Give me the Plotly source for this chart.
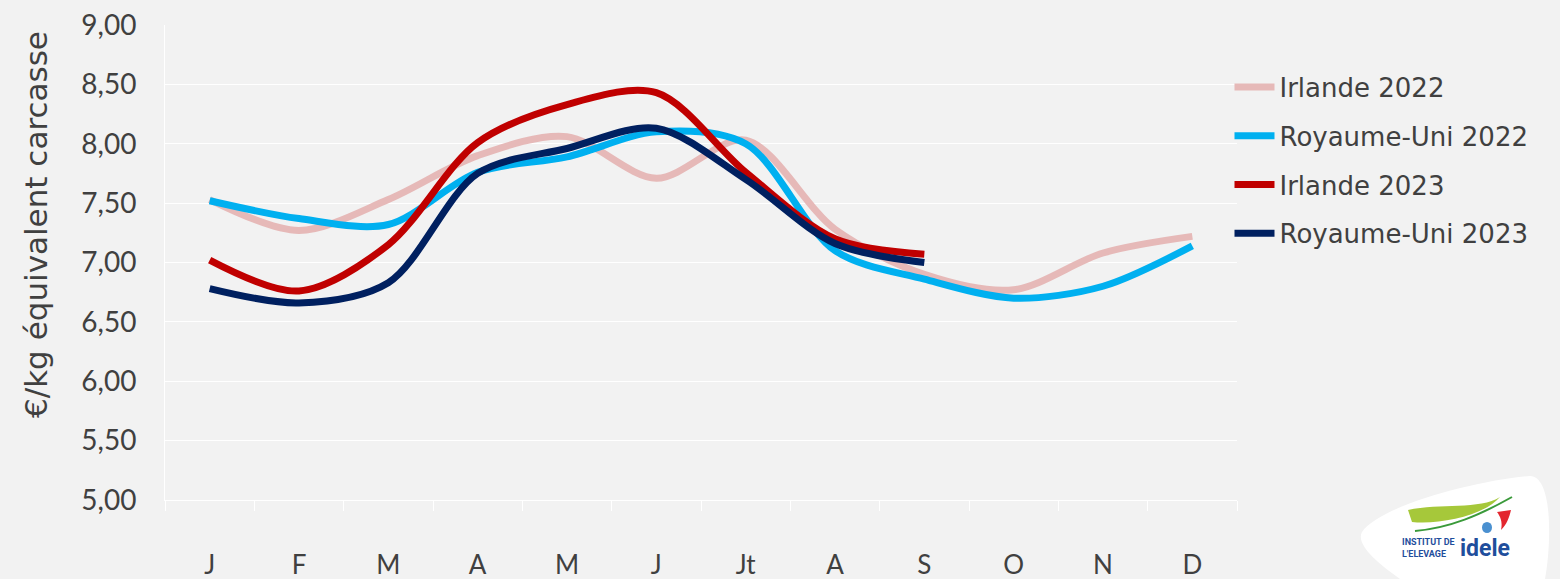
import plotly.graph_objects as go

months = ["J", "F", "M", "A", "M ", "J ", "Jt", "A ", "S", "O", "N", "D"]
month_labels = ["J", "F", "M", "A", "M", "J", "Jt", "A", "S", "O", "N", "D"]

irl_2022 = [7.53, 7.27, 7.53, 7.90, 8.06, 7.71, 8.03, 7.28, 6.90, 6.77, 7.08, 7.22]
ru_2022 = [7.52, 7.37, 7.32, 7.76, 7.89, 8.10, 8.00, 7.10, 6.86, 6.70, 6.80, 7.14]
irl_2023 = [7.02, 6.76, 7.15, 8.01, 8.33, 8.43, 7.76, 7.20, 7.07]
ru_2023 = [6.78, 6.66, 6.83, 7.75, 7.96, 8.13, 7.70, 7.16, 7.00]

series = [
    ("Irlande 2022", irl_2022, "#e6b9b8"),
    ("Royaume-Uni 2022", ru_2022, "#00b0f0"),
    ("Irlande 2023", irl_2023, "#c00000"),
    ("Royaume-Uni 2023", ru_2023, "#002060"),
]

FONT = "Lato, sans-serif"
WIDE = "DejaVu Sans, sans-serif"
TXT = "#404040"

fig = go.Figure()
for i, (name, vals, col) in enumerate(series):
    fig.add_trace(go.Scatter(
        x=months[:len(vals)], y=vals, name=name, mode="lines",
        line=dict(color=col, width=7, shape="spline", smoothing=0.9),
        legendgroup=f"g{i}",
    ))

fig.update_layout(
    width=1560, height=579, autosize=False,
    paper_bgcolor="#f2f2f2", plot_bgcolor="#f2f2f2",
    margin=dict(l=165, r=323, t=25, b=79, autoexpand=False),
    separators=", ",
    font=dict(family=FONT, color=TXT, size=26),
    showlegend=True,
    legend=dict(x=0.993, xanchor="left", y=0.919, yanchor="top",
                font=dict(size=26, color=TXT, family=WIDE), bgcolor="rgba(0,0,0,0)",
                tracegroupgap=12, itemwidth=40),
)
fig.update_xaxes(
    type="category", categoryorder="array", categoryarray=months,
    tickvals=months, ticktext=month_labels, automargin=False,
    tickson="boundaries", ticks="outside", ticklen=10, tickcolor="#ffffff",
    showgrid=False, showline=True, linecolor="#ffffff", linewidth=1,
    tickfont=dict(size=26, color=TXT), ticklabelstandoff=42,
    range=[-0.5, 11.5], zeroline=False,
)
fig.update_yaxes(
    range=[5, 9], dtick=0.5, tick0=5, tickformat=".2f", automargin=False,
    showgrid=True, gridcolor="#ffffff", gridwidth=1,
    showline=True, linecolor="#ffffff", linewidth=1,
    ticks="", tickfont=dict(size=28, color=TXT), ticklabelstandoff=22,
    zeroline=False,
)

fig.add_annotation(
    text="€/kg équivalent carcasse", textangle=-90,
    xref="paper", yref="paper", x=(36 - 165) / 1072, y=(500 - 225) / 475,
    xanchor="center", yanchor="middle", showarrow=False,
    font=dict(size=31, color=TXT, family=WIDE),
)

# Logo (decorative)
def px(x):
    return (x - 165) / 1072

def py(y):
    return (500 - y) / 475

blob = (f"M {px(1362)},{py(532)} "
        f"C {px(1380)},{py(505)} {px(1480)},{py(480)} {px(1530)},{py(476)} "
        f"C {px(1552)},{py(476)} {px(1552)},{py(540)} {px(1545)},{py(579)} "
        f"L {px(1400)},{py(579)} "
        f"C {px(1380)},{py(565)} {px(1355)},{py(545)} {px(1362)},{py(532)} Z")
fig.add_shape(type="path", path=blob, xref="paper", yref="paper",
              fillcolor="#ffffff", line=dict(width=0), layer="above")
swoosh = (f"M {px(1408)},{py(510)} "
          f"C {px(1440)},{py(503)} {px(1480)},{py(510)} {px(1500)},{py(497)} "
          f"C {px(1485)},{py(515)} {px(1440)},{py(525)} {px(1412)},{py(522)} Z")
fig.add_shape(type="path", path=swoosh, xref="paper", yref="paper",
              fillcolor="#a6c83a", line=dict(width=0), layer="above")
fig.add_shape(type="path",
              path=f"M {px(1415)},{py(531)} C {px(1450)},{py(528)} {px(1480)},{py(515)} {px(1512)},{py(497)}",
              xref="paper", yref="paper", line=dict(color="#3a9a3a", width=2), layer="above")
flag = (f"M {px(1497)},{py(512)} L {px(1511)},{py(510)} "
        f"C {px(1509)},{py(518)} {px(1507)},{py(524)} {px(1501)},{py(530)} "
        f"C {px(1503)},{py(522)} {px(1500)},{py(516)} {px(1497)},{py(512)} Z")
fig.add_shape(type="path", path=flag, xref="paper", yref="paper",
              fillcolor="#e3262f", line=dict(width=0), layer="above")
fig.add_shape(type="circle", xref="paper", yref="paper",
              x0=px(1482), x1=px(1492), y0=py(533), y1=py(522),
              fillcolor="#4a90d0", line=dict(width=0), layer="above")
fig.add_annotation(text="<b>INSTITUT DE<br>L'ELEVAGE</b>", xref="paper", yref="paper",
                   x=px(1457), y=py(548), xanchor="right", yanchor="middle",
                   showarrow=False, align="left",
                   font=dict(size=9, color="#1f4e9c", family="Roboto, sans-serif"))
fig.add_annotation(text="<b>idele</b>", xref="paper", yref="paper",
                   x=px(1458), y=py(548), xanchor="left", yanchor="middle",
                   showarrow=False,
                   font=dict(size=23, color="#1f4e9c", family="Roboto, sans-serif"))

fig.write_html(
    "out.html",
    config={"displayModeBar": False},
    post_script="document.body.style.margin='0';document.body.style.background='#f2f2f2';",
)
